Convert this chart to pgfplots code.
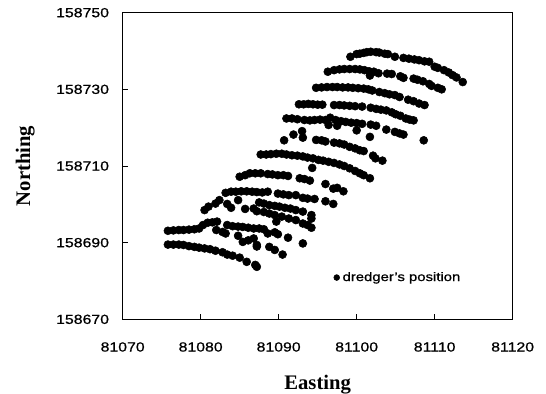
\documentclass[border=0pt]{standalone}
\usepackage{fontspec}
\setmainfont{Liberation Sans}[FakeStretch=1.2, FakeBold=0.8]
\newfontfamily\lblfont{Liberation Serif}
\usepackage{pgfplots}
\pgfplotsset{compat=1.18}
\begin{document}
\begin{tikzpicture}
\begin{axis}[
  scale only axis,
  width=292.5pt, height=230pt,
  xmin=81070, xmax=81120, ymin=158670, ymax=158750,
  xtick={81070,81080,81090,81100,81110,81120},
  ytick={158670,158690,158710,158730,158750},
  scaled ticks=false,
  /pgf/number format/fixed,
  /pgf/number format/precision=0,
  /pgf/number format/assume math mode=true,
  /pgf/number format/set thousands separator={},
  tick label style={font=\fontsize{9.9pt}{11pt}\selectfont},
  xticklabel style={yshift=-13.7pt},
  yticklabel style={xshift=-6.7pt},
  tick align=inside, major tick length=4pt,
  xtick pos=bottom, ytick pos=left,
  tick style={black, line width=0.7pt},
  axis line style={line width=0.8pt},
  xlabel={Easting}, ylabel={Northing},
  label style={font=\lblfont\bfseries\fontsize{15.5pt}{17pt}\selectfont},
  xlabel style={at={(axis description cs:0.5,0)}, anchor=center, yshift=-49.3pt},
  ylabel style={at={(axis description cs:0,0.5)}, anchor=center, yshift=73pt},
  legend style={at={(axis cs:81097.0,158680.9)}, anchor=west, draw=none, fill=none,
    font=\fontsize{9.3pt}{10pt}\selectfont, inner sep=0pt},
  legend cell align=left,
  legend image code/.code={\fill[black] (0pt,0pt) circle (2.2pt);},
]
\addplot[only marks, mark=*, mark size=3pt, black] coordinates {
(81099.2,158738.5)(81100.0,158739.2)(81100.4,158739.3)(81100.9,158739.5)(81101.3,158739.7)(81101.8,158739.8)(81102.5,158739.7)(81102.9,158739.6)(81103.6,158739.3)(81104.0,158739.2)(81104.9,158738.5)(81106.0,158738.2)(81106.7,158738.0)(81107.4,158737.8)(81108.0,158737.6)(81108.7,158737.3)(81109.3,158737.2)(81110.0,158735.9)(81110.4,158735.6)(81111.2,158735.0)(81111.8,158734.4)(81112.3,158733.7)(81112.8,158733.1)(81113.6,158731.9)
(81096.3,158734.6)(81097.1,158735.0)(81097.8,158735.2)(81098.4,158735.3)(81099.1,158735.3)(81099.8,158735.3)(81100.4,158735.2)(81101.0,158735.0)(81101.6,158734.7)(81101.7,158733.6)(81102.2,158734.6)(81102.8,158734.2)(81103.9,158734.1)(81104.5,158734.0)(81105.6,158733.4)(81106.0,158733.0)(81107.3,158732.8)(81107.8,158732.5)(81108.5,158732.1)(81109.3,158731.4)(81109.6,158730.9)(81110.4,158730.4)(81110.9,158730.0)
(81094.8,158730.4)(81095.5,158730.5)(81096.2,158730.6)(81096.9,158730.6)(81097.5,158730.6)(81098.2,158730.5)(81098.9,158730.5)(81099.5,158730.4)(81100.2,158730.3)(81100.9,158730.2)(81101.5,158730.0)(81102.0,158729.7)(81102.9,158729.3)(81103.6,158729.0)(81104.2,158728.7)(81104.9,158728.5)(81105.5,158728.0)(81106.6,158727.3)(81107.3,158726.9)(81108.0,158726.3)(81108.7,158725.9)
(81092.6,158726.1)(81093.2,158726.1)(81093.8,158726.2)(81094.4,158726.1)(81095.0,158726.0)(81095.6,158726.0)(81097.1,158725.9)(81097.8,158725.9)(81098.4,158725.8)(81099.1,158725.7)(81099.8,158725.6)(81100.7,158725.5)(81101.8,158725.2)(81102.5,158724.9)(81103.1,158724.7)(81103.8,158724.5)(81104.5,158724.0)(81105.0,158723.5)(81105.6,158723.1)(81106.3,158722.4)(81106.8,158722.1)(81107.3,158721.9)
(81091.0,158722.4)(81091.7,158722.4)(81092.4,158722.2)(81093.3,158722.0)(81094.0,158721.9)(81094.6,158722.0)(81095.3,158722.1)(81096.0,158722.0)(81096.6,158722.6)(81097.3,158722.0)(81098.0,158721.7)(81098.6,158721.5)(81099.3,158721.3)(81100.0,158721.2)(81100.7,158721.0)(81096.4,158720.7)(81097.5,158720.5)(81100.0,158719.3)(81101.8,158720.8)(81102.5,158720.5)(81103.8,158719.5)(81104.9,158718.9)(81105.5,158718.5)(81106.0,158718.2)(81101.7,158717.6)(81108.6,158716.7)
(81090.7,158716.7)(81091.9,158718.2)(81093.0,158719.1)(81093.1,158717.4)(81094.8,158716.8)(81095.5,158716.7)(81096.0,158716.4)(81097.1,158716.1)(81097.8,158715.9)(81098.4,158715.6)(81099.1,158715.0)(81099.8,158714.6)(81100.4,158714.1)(81100.9,158713.9)(81102.1,158712.7)(81102.4,158712.0)(81103.3,158711.4)
(81087.7,158713.0)(81088.4,158713.0)(81089.0,158713.1)(81089.7,158713.2)(81090.4,158713.2)(81091.0,158713.0)(81091.7,158712.8)(81092.4,158712.7)(81093.1,158712.5)(81093.7,158712.2)(81094.4,158712.0)(81095.1,158711.6)(81095.7,158711.4)(81096.4,158711.1)(81097.1,158710.8)(81097.8,158710.4)(81098.4,158710.0)(81099.1,158709.4)(81099.8,158708.7)(81100.4,158708.1)(81100.9,158707.6)(81101.7,158706.8)(81094.3,158709.5)
(81085.0,158707.2)(81085.7,158707.6)(81086.3,158708.1)(81087.0,158708.1)(81087.7,158708.1)(81088.6,158707.9)(81089.2,158707.8)(81089.9,158707.6)(81090.6,158707.6)(81091.2,158707.4)(81092.7,158706.8)(81093.3,158706.6)(81094.0,158706.2)(81096.0,158705.3)(81097.0,158704.1)(81097.5,158704.3)(81098.3,158703.4)
(81083.2,158703.0)(81083.9,158703.3)(81084.5,158703.3)(81085.2,158703.4)(81085.9,158703.4)(81086.6,158703.3)(81087.2,158703.2)(81087.9,158703.1)(81088.6,158703.3)(81089.9,158702.8)(81090.6,158702.6)(81091.3,158702.4)(81092.2,158702.4)(81093.1,158701.7)(81093.7,158701.5)(81094.6,158701.4)(81096.0,158700.8)(81097.0,158700.1)
(81080.5,158698.5)(81081.0,158699.4)(81081.9,158700.2)(81082.4,158701.1)(81083.4,158700.1)(81083.9,158699.1)(81084.8,158701.1)(81085.7,158698.8)(81086.8,158698.9)(81087.5,158700.5)(81088.1,158700.2)(81088.8,158699.8)(81089.5,158699.6)(81090.1,158699.4)(81090.8,158699.1)(81091.5,158698.9)(81092.2,158698.5)(81093.1,158698.1)(81094.2,158697.2)(81094.2,158696.3)
(81087.2,158698.2)(81088.1,158698.0)(81088.8,158697.6)(81089.5,158697.2)(81090.4,158696.8)(81091.3,158696.3)(81092.2,158695.9)(81093.1,158695.0)(81093.7,158694.6)(81094.2,158693.9)(81089.7,158695.5)
(81075.8,158693.1)(81076.5,158693.2)(81077.2,158693.3)(81077.8,158693.3)(81078.5,158693.4)(81079.2,158693.5)(81079.8,158693.7)(81080.3,158694.6)(81080.9,158695.2)(81081.5,158695.3)(81082.1,158695.5)(81082.0,158693.3)(81082.8,158692.8)(81083.4,158694.6)(81084.1,158694.3)(81084.8,158694.2)(81085.4,158694.1)(81086.1,158693.9)(81086.8,158693.7)(81087.5,158693.7)(81088.1,158693.5)(81088.6,158692.4)(81089.5,158692.7)(81089.9,158692.2)(81091.2,158691.3)(81093.1,158689.8)
(81084.8,158691.8)(81085.4,158690.2)(81086.1,158690.6)(81086.8,158691.1)(81087.2,158689.4)(81087.2,158689.0)(81088.8,158688.9)(81089.5,158688.1)(81090.5,158686.9)(81083.2,158692.4)
(81075.8,158689.5)(81076.5,158689.5)(81077.2,158689.5)(81077.8,158689.4)(81078.5,158689.1)(81079.2,158688.9)(81079.8,158688.7)(81080.5,158688.5)(81081.2,158688.3)(81081.9,158687.9)(81082.8,158687.5)(81083.4,158686.9)(81084.1,158686.6)(81085.0,158686.1)(81085.9,158685.0)(81087.0,158684.2)(81087.2,158683.7)
};
\addlegendentry{dredger's position}
\end{axis}
\pgfresetboundingbox
\path[use as bounding box] (-92pt,-55.3pt) rectangle (317.5pt,239.5pt);
\end{tikzpicture}
\end{document}
